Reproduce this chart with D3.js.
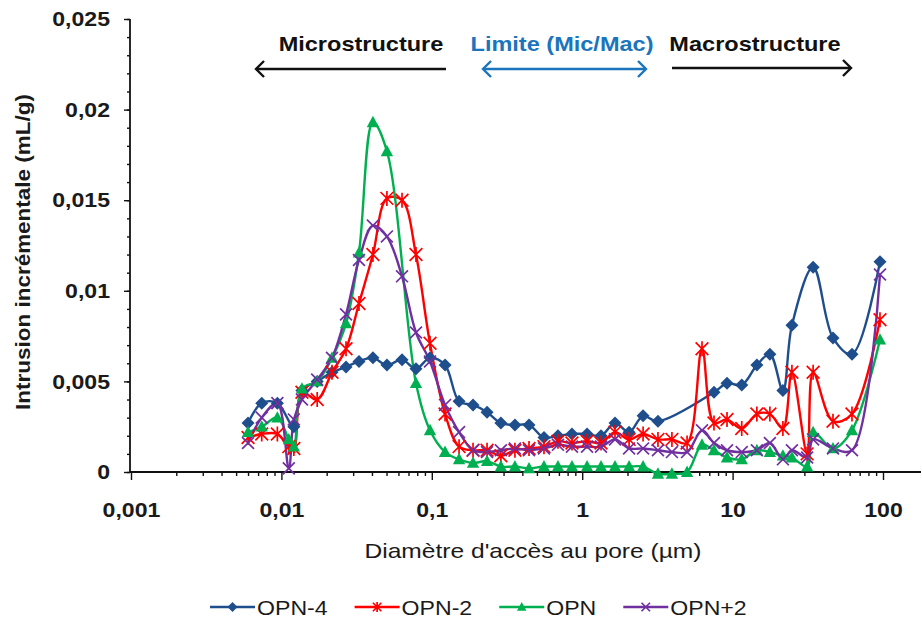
<!DOCTYPE html>
<html><head><meta charset="utf-8">
<script src="https://cdn.jsdelivr.net/npm/d3@7"></script>
<style>
body{margin:0;background:#fff}
svg{display:block}
text{font-family:"Liberation Sans",Arial,sans-serif}
</style>
</head><body>
<svg id="c" width="922" height="623"></svg>
<script>
// ---- data (diameter in µm, incremental intrusion in mL/g) ----
const diameters = [0.0060,0.0074,0.0094,0.0112,0.0121,0.0137,0.0173,0.0217,0.0269,0.0328,
  0.0406,0.0503,0.0634,0.0785,0.0973,0.1225,0.1518,0.188,0.233,0.288,
  0.357,0.443,0.557,0.690,0.855,1.077,1.334,1.652,2.05,2.54,
  3.19,3.95,4.98,6.26,7.52,9.18,11.5,14.5,17.7,21.6,
  24.8,31.3,34.3,46.5,62.2,95.5];
const opnMinus4 = [0.0027,0.0038,0.0038,null,0.0025,0.0045,0.0050,0.0055,0.0058,0.0061,
  0.0063,0.0059,0.0062,0.0057,0.0063,0.0059,0.0039,0.0037,0.0033,0.0027,
  0.0026,0.0026,0.0019,0.0020,0.0021,0.0021,0.0020,0.0027,0.0022,0.0031,
  0.0028,null,null,null,0.0044,0.0049,0.0048,0.0059,0.0065,0.0045,
  0.0081,null,0.0113,0.0074,0.0065,0.0116];
const opnMinus2 = [0.0019,0.0021,0.0021,0.0014,0.0013,0.0044,0.0040,0.0055,0.0068,0.0093,
  0.0120,0.0151,0.0150,0.0120,0.0071,0.0032,0.0014,0.0012,0.0012,0.0009,
  0.0012,0.0013,0.0014,0.0017,0.0016,0.0017,0.0016,0.0022,0.0018,0.0021,
  0.0018,0.0018,0.0016,0.0068,0.0027,0.0029,0.0024,0.0032,0.0032,0.0024,
  0.0055,0.0010,0.0055,0.0028,0.0032,0.0084];
const opnRef = [0.0022,0.0025,0.0030,0.0018,0.0014,0.0046,0.0050,0.0063,0.0082,0.0121,
  0.0193,0.0177,null,0.0049,0.0023,0.0011,0.0007,0.0005,0.0006,0.0003,
  0.0003,0.0002,0.0003,0.0003,0.0003,0.0003,0.0003,0.0003,0.0003,0.0003,
  -0.0001,-0.0001,0.0000,0.0015,0.0012,0.0008,0.0007,0.0012,0.0011,0.0009,
  0.0008,0.0003,0.0022,0.0013,0.0023,0.0073];
const opnPlus2 = [0.0016,0.0030,0.0038,0.0002,0.0029,0.0040,0.0051,0.0063,0.0087,0.0117,
  0.0136,0.0130,0.0108,0.0077,0.0061,0.0037,0.0022,0.0012,0.0011,0.0012,
  0.0013,0.0012,0.0013,0.0015,0.0014,0.0014,0.0014,0.0018,0.0013,0.0013,
  0.0012,0.0011,0.0011,0.0023,0.0016,0.0012,0.0011,0.0012,0.0016,0.0007,
  0.0012,0.0008,0.0018,0.0013,0.0012,0.0109];
const seriesNames = ["OPN-4","OPN-2","OPN","OPN+2"];
const seriesColors = ["#1F4E8C","#FF0000","#00B050","#7030A0"];
const seriesMarkers = ["diamond","star","triangle","cross"];
const yTickValues = [0,0.005,0.01,0.015,0.02,0.025];
const xTickValues = [0.001,0.01,0.1,1,10,100];
const headerLabels = ["Microstructure","Limite (Mic/Mac)","Macrostructure"];
const xTitle = "Diamètre d'accès au pore (µm)";
const yTitle = "Intrusion incrémentale (mL/g)";

// ---- layout ----
const svg = d3.select("#c");
const X0 = 131, X100 = 883, XEND = 921, Y0 = 472, YTOP = 19;
const x = d3.scaleLog().domain([0.001, 100]).range([X0, X100]);
const y = d3.scaleLinear().domain([0, 0.025]).range([Y0, YTOP]);
const fmt = v => String(v).replace(".", ",");

function stretch(sel, k) {
  sel.each(function () {
    const w = this.getComputedTextLength();
    d3.select(this).attr("textLength", w * k).attr("lengthAdjust", "spacingAndGlyphs");
  });
}

// ---- axes ----
const gx = svg.append("g").attr("transform", `translate(0,${Y0})`);
const minorX = [];
for (let e = -3; e <= 1; e++) for (let m = 2; m <= 9; m++) minorX.push(m * Math.pow(10, e));
gx.append("g").call(d3.axisBottom(x).tickValues(minorX).tickSize(4).tickFormat(""))
  .call(g => g.select(".domain").remove());
gx.append("g").call(d3.axisBottom(x).tickValues(xTickValues).tickSize(8).tickPadding(22).tickFormat(fmt))
  .call(g => g.select(".domain").remove());
gx.append("line").attr("x1", X0 - 1).attr("x2", XEND).attr("y1", 0).attr("y2", 0)
  .attr("stroke", "#111").attr("stroke-width", 1.8);

const gy = svg.append("g").attr("transform", `translate(${X0 - 1},0)`);
gy.append("g").call(d3.axisLeft(y).tickValues(d3.range(0, 0.0251, 0.001)).tickSize(3).tickFormat(""))
  .call(g => g.select(".domain").remove());
gy.append("g").call(d3.axisLeft(y).tickValues(yTickValues).tickSize(6).tickPadding(14).tickFormat(fmt))
  .call(g => g.select(".domain").remove());
gy.append("line").attr("x1", 0).attr("x2", 0).attr("y1", Y0).attr("y2", YTOP)
  .attr("stroke", "#111").attr("stroke-width", 1.8);

svg.selectAll(".tick line").attr("stroke", "#111").attr("stroke-width", 1.4);
svg.selectAll(".tick text").attr("font-size", 21).attr("font-weight", "bold").attr("fill", "#1a1a1a")
  .attr("font-family", "Liberation Sans, Arial, sans-serif");
gy.selectAll(".tick text").attr("text-anchor", "end");
stretch(svg.selectAll(".tick text"), 1.1);

// axis titles
svg.append("text").attr("x", 533).attr("y", 558).attr("text-anchor", "middle")
  .attr("font-size", 21).attr("fill", "#1a1a1a").text(xTitle).call(stretch, 1.17);
svg.append("text").attr("transform", `translate(30,252) rotate(-90)`).attr("text-anchor", "middle")
  .attr("font-size", 21).attr("font-weight", "bold").attr("fill", "#1a1a1a").text(yTitle)
  .call(stretch, 1.07);

// ---- markers ----
function marker(g, type, color, s) {
  if (type === "diamond") {
    g.append("path").attr("d", `M0,${-s}L${s},0L0,${s}L${-s},0Z`).attr("fill", color);
  } else if (type === "triangle") {
    g.append("path").attr("d", `M0,${-s}L${s * 0.95},${s * 0.75}L${-s * 0.95},${s * 0.75}Z`).attr("fill", color);
  } else if (type === "star") {
    const a = s * 0.85;
    g.append("path").attr("d", `M${-a},${-a}L${a},${a}M${-a},${a}L${a},${-a}M0,${-s}L0,${s}`)
      .attr("stroke", color).attr("stroke-width", 1.7).attr("fill", "none");
  } else {
    const a = s * 0.85;
    g.append("path").attr("d", `M${-a},${-a}L${a},${a}M${-a},${a}L${a},${-a}`)
      .attr("stroke", color).attr("stroke-width", 1.7).attr("fill", "none");
  }
}

// ---- series ----
const allSeries = [opnMinus4, opnMinus2, opnRef, opnPlus2];
const line = d3.line().x(d => x(d[0])).y(d => y(d[1])).curve(d3.curveCatmullRom.alpha(0.5));
const plot = svg.append("g");
allSeries.forEach((vals, i) => {
  const pts = diameters.map((d, j) => [d, vals[j]]).filter(p => p[1] !== null);
  plot.append("path").attr("d", line(pts)).attr("fill", "none")
    .attr("stroke", seriesColors[i]).attr("stroke-width", 2.4);
});
allSeries.forEach((vals, i) => {
  const pts = diameters.map((d, j) => [d, vals[j]]).filter(p => p[1] !== null);
  const sz = [6.5, 7.5, 6.5, 7][i];
  pts.forEach(p => {
    const g = plot.append("g").attr("transform", `translate(${x(p[0])},${y(p[1])})`);
    marker(g, seriesMarkers[i], seriesColors[i], sz);
  });
});

// ---- header annotations ----
const hdr = svg.append("g");
const hdrX = [361, 562, 755];
const hdrCol = ["#111", "#1B75BC", "#111"];
headerLabels.forEach((t, i) => {
  hdr.append("text").attr("x", hdrX[i]).attr("y", 51).attr("text-anchor", "middle")
    .attr("font-size", 21).attr("font-weight", "bold").attr("fill", hdrCol[i]).text(t).call(stretch, 1.12);
});
function arrow(x1, x2, yy, col, left, right) {
  hdr.append("line").attr("x1", x1).attr("x2", x2).attr("y1", yy).attr("y2", yy)
    .attr("stroke", col).attr("stroke-width", 2.4);
  const h = 8;
  if (left) hdr.append("path").attr("d", `M${x1 + h},${yy - h}L${x1},${yy}L${x1 + h},${yy + h}`)
    .attr("stroke", col).attr("stroke-width", 2.4).attr("fill", "none");
  if (right) hdr.append("path").attr("d", `M${x2 - h},${yy - h}L${x2},${yy}L${x2 - h},${yy + h}`)
    .attr("stroke", col).attr("stroke-width", 2.4).attr("fill", "none");
}
arrow(256, 446, 69, "#111", true, false);
arrow(483, 646, 69, "#1B75BC", true, true);
arrow(672, 851, 68, "#111", false, true);

// ---- legend ----
const leg = svg.append("g").attr("transform", "translate(0,607)");
let lx = 210;
seriesNames.forEach((n, i) => {
  leg.append("line").attr("x1", lx).attr("x2", lx + 45).attr("stroke", seriesColors[i]).attr("stroke-width", 2.4);
  const g = leg.append("g").attr("transform", `translate(${lx + 22.5},0)`);
  marker(g, seriesMarkers[i], seriesColors[i], 5);
  const t = leg.append("text").attr("x", lx + 47).attr("y", 7.5).attr("font-size", 21)
    .attr("fill", "#1a1a1a").text(n).call(stretch, 1.1);
  lx += 47 + +t.attr("textLength") + 27;
});
</script>
</body></html>
